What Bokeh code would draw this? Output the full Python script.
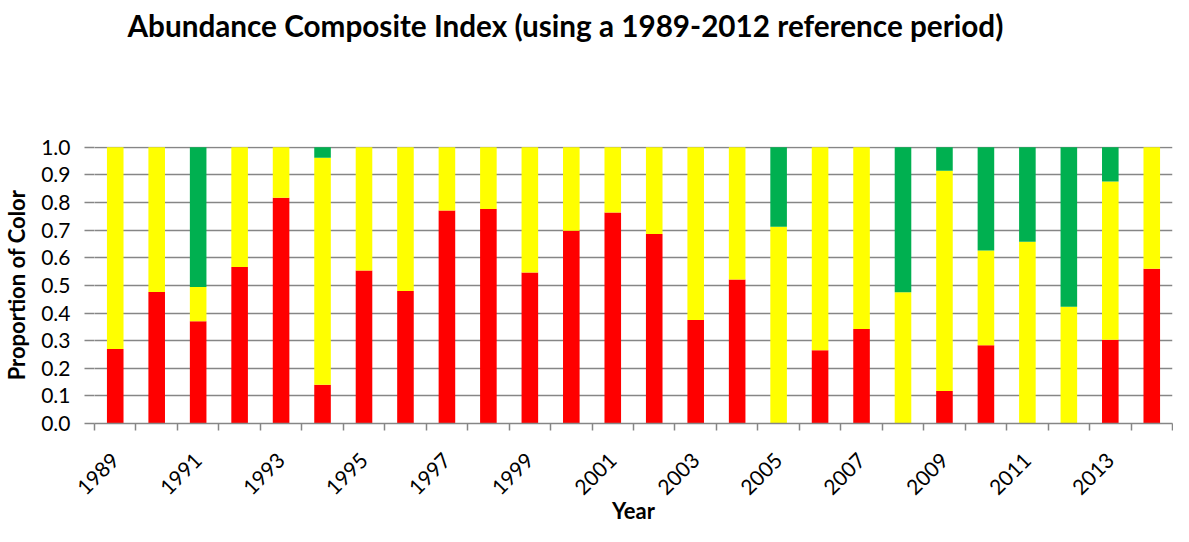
import math
from bokeh.plotting import figure
from bokeh.layouts import column
from bokeh.models import (FixedTicker, NumeralTickFormatter, Range1d, ColumnDataSource, Title)
from bokeh.embed import file_html
from bokeh.resources import INLINE

years = list(range(1989, 2015))
red = [0.27, 0.476, 0.37, 0.567, 0.817, 0.14, 0.554, 0.48, 0.771, 0.777, 0.547, 0.698, 0.764,
       0.686, 0.375, 0.521, 0.0, 0.265, 0.342, 0.0, 0.118, 0.283, 0.0, 0.0, 0.303, 0.56]
yellow = [0.73, 0.524, 0.124, 0.433, 0.183, 0.822, 0.446, 0.52, 0.229, 0.223, 0.453, 0.302, 0.236,
          0.314, 0.625, 0.479, 0.712, 0.735, 0.658, 0.475, 0.797, 0.343, 0.658, 0.423, 0.573, 0.44]
green = [0.0, 0.0, 0.506, 0.0, 0.0, 0.038, 0.0, 0.0, 0.0, 0.0, 0.0, 0.0, 0.0,
         0.0, 0.0, 0.0, 0.288, 0.0, 0.0, 0.525, 0.085, 0.374, 0.342, 0.577, 0.124, 0.0]
label_years = list(range(1989, 2015, 2))
y_ticks = [i / 10 for i in range(11)]

title = "Abundance Composite Index (using a 1989-2012 reference period)"
FONT = "Lato"
GRAY = "#868686"

source = ColumnDataSource(dict(year=years, red=red, yellow=yellow, green=green))

# header figure that only carries the chart title
head = figure(width=1173, height=60, output_backend="svg", toolbar_location=None,
              x_axis_location=None, y_axis_location=None,
              min_border_left=85, min_border_right=1, min_border_top=0, min_border_bottom=0)
head.outline_line_color = None
head.grid.visible = False
head.title = Title(text=title, text_font=FONT, text_font_size="29.7px", text_font_style="bold",
                   text_color="black", align="left", offset=33, standoff=10)

p = figure(width=1173, height=466, output_backend="svg", toolbar_location=None,
           x_range=Range1d(years[0] - 0.5, years[-1] + 0.5), y_range=Range1d(0, 1.003),
           min_border_left=85, min_border_right=1, min_border_top=86, min_border_bottom=99)
p.outline_line_color = None

# x axis
xa = p.below[0]
xa.ticker = FixedTicker(ticks=label_years, minor_ticks=[y - 0.5 for y in years] + [years[-1] + 0.5])
xa.major_tick_line_color = None
xa.major_tick_out = 0
xa.major_tick_in = 0
xa.minor_tick_line_color = GRAY
xa.minor_tick_line_width = 1.5
xa.minor_tick_out = 7
xa.minor_tick_in = 0
xa.axis_line_color = GRAY
xa.axis_line_width = 1.5
xa.major_label_orientation = math.pi / 4
xa.major_label_standoff = 26
xa.major_label_text_font = FONT
xa.major_label_text_font_size = "21px"
xa.major_label_text_color = "black"
xa.axis_label = "Year"
xa.axis_label_text_font = FONT
xa.axis_label_text_font_size = "22px"
xa.axis_label_text_font_style = "bold"
xa.axis_label_text_color = "black"
xa.axis_label_standoff = -8

# y axis
ya = p.left[0]
ya.ticker = FixedTicker(ticks=y_ticks)
ya.formatter = NumeralTickFormatter(format="0.0")
ya.axis_line_color = None
ya.major_tick_line_color = GRAY
ya.major_tick_line_width = 1.5
ya.major_tick_out = 10
ya.major_tick_in = 0
ya.minor_tick_line_color = None
ya.major_label_standoff = 14
ya.major_label_text_font = FONT
ya.major_label_text_font_size = "21px"
ya.major_label_text_color = "black"
ya.axis_label = "Proportion of Color"
ya.axis_label_text_font = FONT
ya.axis_label_text_font_size = "22px"
ya.axis_label_text_font_style = "bold"
ya.axis_label_text_color = "black"
ya.axis_label_standoff = 8

p.vbar_stack(["red", "yellow", "green"], x="year", width=0.4,
             color=["#FF0000", "#FFFF00", "#00B050"], line_color=None, source=source)

p.xgrid.visible = False
p.ygrid.ticker = FixedTicker(ticks=y_ticks)
p.ygrid.grid_line_color = GRAY
p.ygrid.grid_line_width = 1.5

layout = column(head, p, spacing=0)
open("out.html", "w").write(file_html(layout, INLINE))
